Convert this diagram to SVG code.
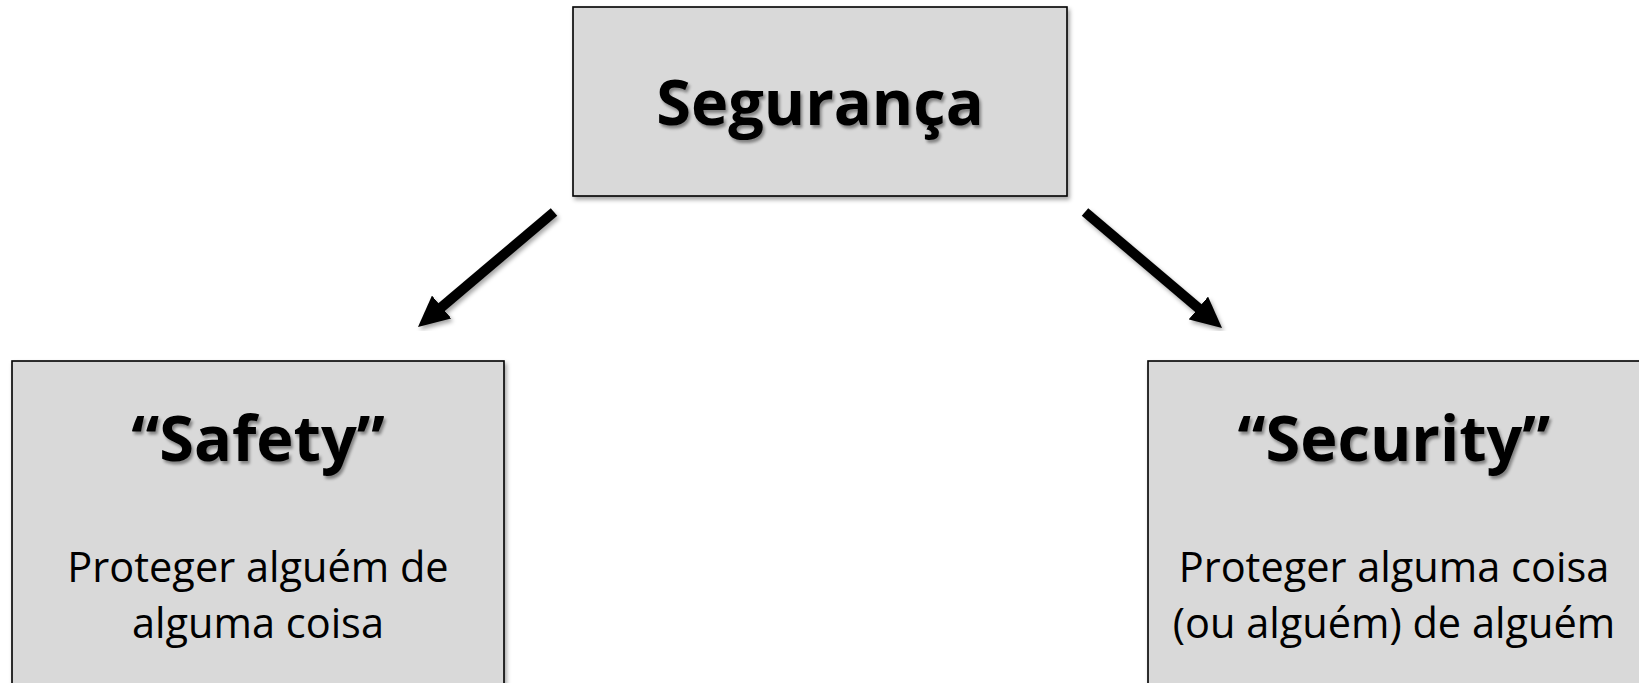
<svg xmlns="http://www.w3.org/2000/svg" width="1639" height="683" viewBox="0 0 1639 683">
<style>
.box{fill:#d9d9d9;stroke:#000;stroke-width:1.6}
.title{font-family:"Open Sans","Liberation Sans",sans-serif;font-weight:bold;font-size:63px;fill:#000;text-anchor:middle}
.body{font-family:"Open Sans","Liberation Sans",sans-serif;font-size:41.5px;fill:#000;text-anchor:middle}
.arrow{stroke:#000;stroke-width:10;fill:none}
</style>
<defs>
<filter id="sh" x="-20%" y="-20%" width="140%" height="140%">
<feDropShadow dx="2" dy="3" stdDeviation="2" flood-color="#000" flood-opacity="0.35"/>
</filter>
<filter id="tsh" x="-10%" y="-20%" width="120%" height="150%">
<feDropShadow dx="2" dy="3" stdDeviation="1.5" flood-color="#000" flood-opacity="0.4"/>
</filter>
<marker id="head" markerUnits="userSpaceOnUse" markerWidth="32" markerHeight="30" refX="4" refY="15" orient="auto">
<path d="M0,0 L31,15 L0,30 z" fill="#000"/>
</marker>
</defs>
<g id="seguranca">
<rect class="box" x="573" y="7" width="494" height="189" filter="url(#sh)"/>
<text class="title" x="820" y="125" filter="url(#tsh)">Segurança</text>
</g>
<g id="safety">
<rect class="box" x="12" y="361" width="492" height="340" filter="url(#sh)"/>
<text class="title" x="258" y="461" filter="url(#tsh)">“Safety”</text>
<text class="body" x="258" y="582">Proteger alguém de</text>
<text class="body" x="258" y="638">alguma coisa</text>
</g>
<g id="security">
<rect class="box" x="1148" y="361" width="500" height="340" filter="url(#sh)"/>
<text class="title" x="1394" y="461" filter="url(#tsh)">“Security”</text>
<text class="body" x="1394" y="582">Proteger alguma coisa</text>
<text class="body" x="1394" y="638">(ou alguém) de alguém</text>
</g>
<g id="connectors" filter="url(#sh)">
<line class="arrow" x1="554" y1="212" x2="438.6" y2="309.6" marker-end="url(#head)"/>
<line class="arrow" x1="1085" y1="212" x2="1201.4" y2="310.6" marker-end="url(#head)"/>
</g>
</svg>
